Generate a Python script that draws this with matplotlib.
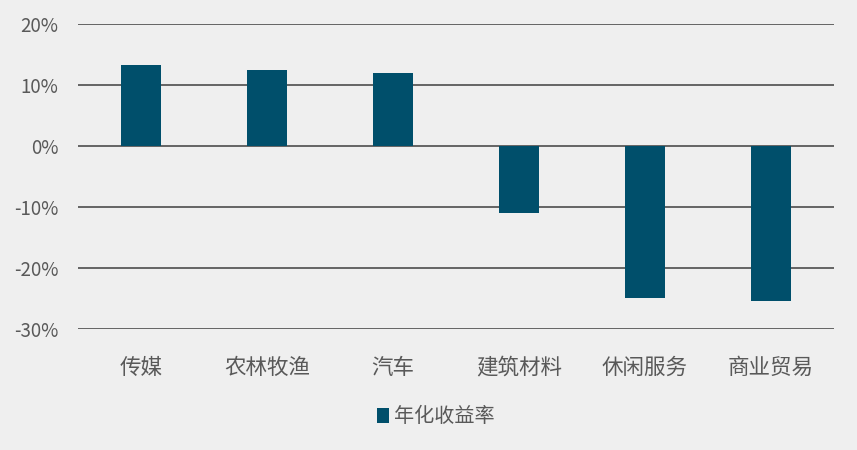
import matplotlib.pyplot as plt
from matplotlib.ticker import FuncFormatter

plt.rcParams['font.family'] = ['Noto Sans CJK SC', 'DejaVu Sans']

categories = ['传媒', '农林牧渔', '汽车', '建筑材料', '休闲服务', '商业贸易']
returns = [13.3, 12.5, 12.0, -11.0, -24.9, -25.4]
yticks = [-30, -20, -10, 0, 10, 20]

bg = '#efefef'
bar_color = '#004f6b'
text_color = '#595959'

fig = plt.figure(figsize=(8.57, 4.5), dpi=100, facecolor=bg)
ax = fig.add_axes([78 / 857, 1 - 329 / 450, 756 / 857, 305 / 450], facecolor=bg)

x = range(len(categories))
ax.bar(x, returns, width=0.32, color=bar_color, label='年化收益率', zorder=3)

ax.set_xlim(-0.5, len(categories) - 0.5)
ax.set_ylim(-30, 20)
ax.set_yticks(yticks)
ax.yaxis.set_major_formatter(FuncFormatter(lambda v, p: f'{v:.0f}%'))
ax.grid(axis='y', color='#595959', linewidth=1.3, zorder=1)
for s in ax.spines.values():
    s.set_visible(False)
ax.tick_params(axis='y', length=0, labelsize=13.5, colors=text_color, pad=14)
ax.tick_params(axis='x', length=0, labelsize=15.5, colors=text_color, pad=20)
ax.set_xticks(list(x))
ax.set_xticklabels(categories)

fig.legend(loc='center left', bbox_to_anchor=(377 / 857, 1 - 417 / 450),
           frameon=False, borderpad=0, borderaxespad=0,
           fontsize=14.5, labelcolor=text_color, handlelength=0.6, handleheight=0.7,
           handletextpad=0.25)

fig.savefig('out.png', dpi=100, facecolor=bg)
